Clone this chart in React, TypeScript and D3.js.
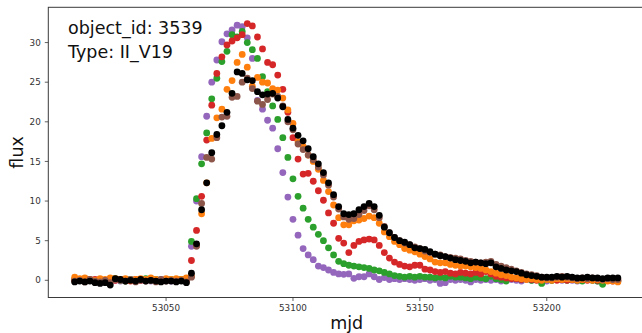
import React from "react";
import * as d3 from "d3";

// Observation times (mjd), 2-day cadence
const mjd: number[] = [
  53014, 53016, 53018, 53020, 53022, 53024, 53026, 53028, 53030, 53032,
  53034, 53036, 53038, 53040, 53042, 53044, 53046, 53048, 53050, 53052,
  53054, 53056, 53058, 53060, 53062, 53064, 53066, 53068, 53070, 53072,
  53074, 53076, 53078, 53080, 53082, 53084, 53086, 53088, 53090, 53092,
  53094, 53096, 53098, 53100, 53102, 53104, 53106, 53108, 53110, 53112,
  53114, 53116, 53118, 53120, 53122, 53124, 53126, 53128, 53130, 53132,
  53134, 53136, 53138, 53140, 53142, 53144, 53146, 53148, 53150, 53152,
  53154, 53156, 53158, 53160, 53162, 53164, 53166, 53168, 53170, 53172,
  53174, 53176, 53178, 53180, 53182, 53184, 53186, 53188, 53190, 53192,
  53194, 53196, 53198, 53200, 53202, 53204, 53206, 53208, 53210, 53212,
  53214, 53216, 53218, 53220, 53222, 53224, 53226, 53228,
];

const fluxPurple: number[] = [
  0.1, 0.0, -0.1, 0.1, 0.0, -0.1, 0.0, 0.2, 0.0, -0.1,
  0.1, 0.0, -0.1, 0.0, 0.1, -0.1, 0.0, 0.1, 0.0, -0.1,
  0.0, 0.1, 0.0, 4.3, 10.0, 15.6, 20.7, 25.0, 27.8, 30.1,
  31.1, 31.6, 32.2, 32.0, 30.6, 28.0, 22.7, 21.6, 20.2, 19.2,
  16.6, 13.6, 10.5, 7.7, 5.7, 4.0, 3.2, 2.6, 1.8, 1.6,
  1.3, 1.0, 0.8, 0.75, 0.8, 0.25, 0.45, 0.45, 0.8, 0.45,
  0.1, 0.35, 0.1, 0.2, 0.1, 0.2, 0.1, 0.0, 0.1, 0.2,
  0.0, 0.1, -0.4, -0.3, 0.1, 0.0, 0.1, 0.0, -0.2, 0.1,
  0.0, 0.1, 0.0, 0.1, -0.1, 0.0, 0.1, 0.0, -0.1, 0.1,
  0.0, 0.1, 0.0, -0.1, 0.0, 0.1, 0.0, 0.1, 0.0, -0.1,
  0.0, 0.1, 0.0, -0.1, 0.0, 0.1, 0.0, -0.1,
];

const fluxGreen: number[] = [
  0.1, 0.0, 0.2, 0.0, -0.1, 0.1, 0.0, 0.1, 0.2, 0.0,
  -0.1, 0.1, 0.0, 0.1, 0.2, 0.0, 0.1, -0.1, 0.0, 0.1,
  0.0, 0.1, 0.2, 4.9, 10.3, 14.7, 18.6, 22.9, 25.5, 27.6,
  28.9, 31.0, 30.7, 31.4, 30.0, 29.1, 28.0, 25.7, 23.8, 22.0,
  20.3, 18.0, 15.5, 12.8, 10.6, 9.1, 7.7, 6.7, 5.8, 5.0,
  4.1, 3.2, 2.4, 2.1, 1.9, 1.8, 1.7, 1.6, 1.5, 1.3,
  1.2, 1.0, 0.8, 0.6, 0.5, 0.4, 0.5, 0.4, 0.5, 0.4,
  0.4, 0.3, 0.4, 0.3, 0.5, 0.4, 0.4, 0.3, 0.2, 0.4,
  0.3, 0.2, 0.5, 0.2, 0.1, -0.1, 0.3, 0.2, 0.1, 0.2,
  0.0, 0.1, -0.4, 0.1, 0.0, 0.2, 0.1, 0.0, 0.1, 0.0,
  -0.1, 0.1, 0.0, -0.1, -0.5, 0.0, 0.1, -0.1,
];

const fluxRed: number[] = [
  0.0, 0.1, -0.1, 0.0, 0.1, 0.0, -0.1, 0.1, 0.0, 0.1,
  0.0, -0.1, 0.1, 0.0, 0.0, 0.1, -0.1, 0.0, 0.1, 0.0,
  -0.1, 0.0, 0.1, 2.5, 6.3, 10.6, 17.7, 22.1, 26.1, 28.2,
  29.7, 30.2, 30.6, 31.0, 32.4, 32.1, 30.7, 29.2, 27.5, 27.2,
  25.9, 24.1, 21.2, 18.0, 15.3, 13.4, 13.5, 12.5, 11.3, 10.1,
  8.5, 7.2, 5.3, 4.7, 3.5, 4.4, 4.9, 5.1, 5.2, 5.1,
  4.4, 3.5, 2.8, 2.3, 2.0, 1.8, 1.7, 1.9, 1.9, 1.4,
  1.3, 1.1, 1.0, 1.1, 0.9, 0.8, 1.0, 0.9, 0.8, 1.0,
  0.8, 1.1, 0.8, 0.5, 0.4, 0.3, 0.2, 0.2, 0.1, 0.2,
  0.1, 0.0, 0.1, 0.2, 0.1, 0.0, 0.1, 0.0, 0.1, 0.2,
  0.1, 0.0, 0.1, 0.0, 0.1, 0.0, -0.1, 0.0,
];

const fluxOrange: number[] = [
  0.4, 0.2, 0.3, 0.1, 0.0, 0.2, 0.1, 0.3, 0.2, 0.1,
  0.2, 0.0, 0.1, 0.2, 0.1, 0.3, 0.1, 0.0, 0.2, 0.1,
  0.2, 0.1, 0.3, 0.5, 4.4, 8.4, 12.3, 17.9, 20.5, 21.6,
  24.1, 25.2, 27.5, 28.5, 26.9, 24.5, 25.6, 25.0, 24.9, 24.2,
  24.0, 23.0, 21.5, 19.8, 17.5, 16.9, 15.8, 15.0, 14.0, 12.6,
  11.2, 9.5, 7.9, 7.0, 7.0, 7.5, 7.6, 7.8, 8.1, 7.9,
  7.2, 6.1, 5.5, 4.9, 4.5, 4.0, 3.8, 3.6, 3.3, 3.0,
  2.7, 2.3, 2.2, 2.2, 2.0, 1.9, 1.8, 1.8, 1.7, 1.6,
  1.5, 1.3, 1.1, 0.9, 0.7, 0.6, 0.4, 0.3, 0.2, 0.1,
  0.2, 0.1, 0.0, 0.1, 0.0, 0.2, 0.1, 0.2, 0.1, 0.0,
  0.1, 0.1, 0.0, 0.1, 0.0, -0.1, -0.1, -0.2,
];

const fluxBrown: number[] = [
  -0.1, 0.0, -0.2, 0.1, -0.1, -0.2, 0.0, -0.3, 0.1, 0.0,
  -0.1, 0.1, -0.2, 0.0, -0.1, 0.0, -0.2, 0.1, -0.1, 0.0,
  -0.1, 0.0, -0.2, 0.4, 4.3, 9.7, 15.5, 15.3, 18.0, 20.6,
  20.7, 23.1, 23.2, 25.0, 25.5, 24.2, 22.6, 22.2, 22.8, 23.5,
  23.2, 22.0, 20.0, 19.0, 17.2, 16.5, 15.8, 15.2, 14.3, 13.3,
  12.0, 10.5, 9.0, 8.0, 7.7, 7.8, 8.3, 8.8, 9.4, 8.9,
  7.9, 6.8, 6.0, 5.4, 5.0, 4.7, 4.5, 4.2, 4.0, 3.7,
  3.5, 3.3, 3.2, 3.0, 2.9, 2.8, 2.7, 2.5, 2.4, 2.3,
  2.2, 2.3, 2.4, 2.0, 1.8, 1.6, 1.4, 1.2, 1.0, 0.8,
  0.7, 0.6, 0.4, 0.3, 0.3, 0.4, 0.5, 0.4, 0.3, 0.2,
  0.3, 0.2, 0.3, 0.2, 0.1, 0.2, 0.1, 0.1,
];

const fluxBlack: number[] = [
  -0.2, -0.1, -0.2, -0.1, -0.3, -0.4, -0.3, -0.6, 0.2, 0.1,
  -0.1, 0.0, -0.1, 0.1, -0.1, 0.0, -0.1, -0.2, -0.1, -0.1,
  -0.2, -0.1, -0.3, 0.9, 4.6, 8.9, 12.3, 16.1, 18.4, 19.5,
  21.2, 23.6, 26.3, 26.1, 25.3, 25.2, 23.8, 23.4, 23.5, 23.6,
  23.0, 21.9, 20.3, 19.2, 18.3, 17.6, 16.6, 15.6, 14.7, 13.6,
  12.3, 10.8, 9.3, 8.4, 8.3, 8.4, 8.9, 9.3, 9.7, 9.3,
  8.2, 6.7, 6.0, 5.4, 5.0, 4.8, 4.5, 4.1, 4.0, 3.9,
  3.6, 3.3, 3.1, 3.0, 2.8, 2.6, 2.5, 2.4, 2.2, 2.3,
  2.2, 2.1, 2.2, 1.7, 1.5, 1.3, 1.2, 1.1, 0.9, 0.7,
  0.6, 0.5, 0.4, 0.4, 0.4, 0.5, 0.4, 0.5, 0.4, 0.3,
  0.3, 0.4, 0.3, 0.3, 0.2, 0.3, 0.3, 0.3,
];

const seriesValues: number[][] = [fluxPurple, fluxGreen, fluxRed, fluxOrange, fluxBrown, fluxBlack];
const seriesColors: string[] = ["#9467bd", "#2ca02c", "#d62728", "#ff7f0e", "#8c564b", "#000000"];

const xTicks: number[] = [53050, 53100, 53150, 53200];
const yTicks: number[] = [0, 5, 10, 15, 20, 25, 30];
const titleLines: string[] = ["object_id: 3539", "Type: II_V19"];

const W = 642;
const H = 333;
const left = 48.3;
const top = 7.3;
const bottom = 297.5;
const right = 645;

export default function App() {
  const x = d3.scaleLinear().domain([53003.6, 53238.7]).range([left, right]);
  const y = d3.scaleLinear().domain([-2.17, 34.45]).range([bottom, top]);
  const font = "DejaVu Sans, sans-serif";
  const axisColor = "#3a3a3a";

  return (
    <svg
      width={W}
      height={H}
      style={{ position: "absolute", left: 0, top: 0, background: "#fff" }}
      fontFamily={font}
    >
      <rect x={0} y={0} width={W} height={H} fill="#fff" />
      <defs>
        <clipPath id="plotArea">
          <rect x={left} y={top} width={right - left} height={bottom - top} />
        </clipPath>
      </defs>
      <g clipPath="url(#plotArea)">
        {seriesValues.map((vals, si) => (
          <g key={si} fill={seriesColors[si]}>
            {vals.map((v, i) => (
              <circle key={i} cx={x(mjd[i])} cy={y(v)} r={3.4} />
            ))}
          </g>
        ))}
      </g>
      {/* frame */}
      <rect
        x={left}
        y={top}
        width={right - left}
        height={bottom - top}
        fill="none"
        stroke={axisColor}
        strokeWidth={1}
      />
      {/* x ticks */}
      {xTicks.map((t) => (
        <g key={t}>
          <line x1={x(t)} x2={x(t)} y1={bottom} y2={bottom + 3.5} stroke={axisColor} strokeWidth={0.8} />
          <text x={x(t)} y={bottom + 13.5} fontSize={8.8} textAnchor="middle" fill="#333">
            {t}
          </text>
        </g>
      ))}
      {/* y ticks */}
      {yTicks.map((t) => (
        <g key={t}>
          <line x1={left - 3.5} x2={left} y1={y(t)} y2={y(t)} stroke={axisColor} strokeWidth={0.8} />
          <text x={left - 7.5} y={y(t)} dy="0.35em" fontSize={8.8} textAnchor="end" fill="#333">
            {t}
          </text>
        </g>
      ))}
      {/* axis labels */}
      <text x={(left + right) / 2} y={329} fontSize={17.5} textAnchor="middle" fill="#111">
        mjd
      </text>
      <text
        transform={`translate(${23}, ${(top + bottom) / 2}) rotate(-90)`}
        fontSize={17.5}
        textAnchor="middle"
        fill="#111"
      >
        flux
      </text>
      {/* annotation */}
      {titleLines.map((s, i) => (
        <text key={i} x={68} y={34.3 + i * 24} fontSize={17.5} fill="#111">
          {s}
        </text>
      ))}
    </svg>
  );
}
